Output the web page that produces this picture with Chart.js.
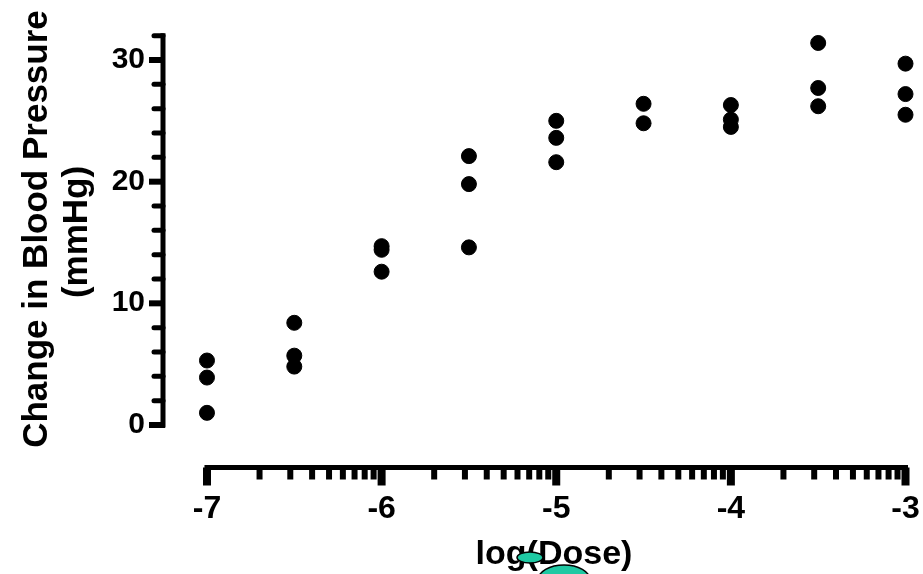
<!DOCTYPE html>
<html>
<head>
<meta charset="utf-8">
<script src="https://cdn.jsdelivr.net/npm/chart.js@4/dist/chart.umd.min.js"></script>
<style>
  html, body { margin: 0; padding: 0; background: #fff; }
</style>
</head>
<body>
<canvas id="doseChart" width="923" height="574"></canvas>
<script>
// log dose and the three replicate responses (mmHg)
const doses = [-7, -6.5, -6, -5.5, -5, -4.5, -4, -3.5, -3];
const rep1 = [5.3, 8.4, 14.7, 22.1, 25.0, 26.4, 26.3, 31.4, 29.7];
const rep2 = [3.9, 5.7, 14.4, 19.8, 23.6, 24.8, 25.1, 27.7, 27.2];
const rep3 = [1.0, 4.8, 12.6, 14.6, 21.6, null, 24.5, 26.2, 25.5];

const xTicks = [-7, -6, -5, -4, -3];
const yTicks = [0, 10, 20, 30];
const yMinor = [2, 4, 6, 8, 12, 14, 16, 18, 22, 24, 26, 28, 32];

const FONT = '"Liberation Sans", Arial, sans-serif';

const points = [];
[rep1, rep2, rep3].forEach(function (rep) {
  rep.forEach(function (v, i) {
    if (v !== null) points.push({ x: doses[i], y: v });
  });
});

// axes are drawn by hand so that x sits below y and the log minors fit
const prismAxes = {
  id: 'prismAxes',
  beforeDatasetsDraw: function (chart) {
    const ctx = chart.ctx;
    const xs = chart.scales.x, ys = chart.scales.y;
    const ax = 163;
    const ay = chart.chartArea.bottom + 0.5;
    ctx.save();
    ctx.strokeStyle = '#000';
    ctx.fillStyle = '#000';

    // y axis
    ctx.lineWidth = 5;
    ctx.lineCap = 'square';
    ctx.beginPath();
    ctx.moveTo(ax, ys.getPixelForValue(0));
    ctx.lineTo(ax, ys.getPixelForValue(32));
    ctx.stroke();
    ctx.lineCap = 'round';
    yMinor.forEach(function (v) {
      const py = ys.getPixelForValue(v);
      ctx.lineWidth = 5;
      ctx.beginPath();
      ctx.moveTo(ax, py);
      ctx.lineTo(ax - 9, py);
      ctx.stroke();
    });
    ctx.lineCap = 'butt';
    ctx.font = 'bold 30px ' + FONT;
    ctx.textAlign = 'right';
    ctx.textBaseline = 'alphabetic';
    yTicks.forEach(function (v) {
      const py = ys.getPixelForValue(v);
      ctx.lineWidth = 6;
      ctx.beginPath();
      ctx.moveTo(ax + 2, py);
      ctx.lineTo(ax - 14, py);
      ctx.stroke();
      ctx.fillText(String(v), 145, py + 8);
    });

    // x axis
    const x0 = xs.getPixelForValue(-7), x1 = xs.getPixelForValue(-3);
    ctx.lineWidth = 5;
    ctx.lineCap = 'square';
    ctx.beginPath();
    ctx.moveTo(x0, ay);
    ctx.lineTo(x1, ay);
    ctx.stroke();
    ctx.lineCap = 'butt';
    for (let d = -7; d < -3; d++) {
      for (let k = 2; k <= 9; k++) {
        const px = xs.getPixelForValue(d + Math.log10(k));
        ctx.lineWidth = 6;
        ctx.beginPath();
        ctx.moveTo(px, ay);
        ctx.lineTo(px, ay + 12);
        ctx.stroke();
      }
    }
    ctx.font = 'bold 32px ' + FONT;
    ctx.textAlign = 'center';
    xTicks.forEach(function (v) {
      const px = xs.getPixelForValue(v);
      ctx.lineWidth = 8;
      ctx.beginPath();
      ctx.moveTo(px, ay);
      ctx.lineTo(px, ay + 18);
      ctx.stroke();
      ctx.fillText(String(v), px, 518);
    });

    // titles
    ctx.font = 'bold 34px ' + FONT;
    ctx.fillText('log(Dose)', 554, 564);
    ctx.font = 'bold 35px ' + FONT;
    ctx.save();
    ctx.translate(47, 229);
    ctx.rotate(-Math.PI / 2);
    ctx.fillText('Change in Blood Pressure', 0, 0);
    ctx.restore();
    ctx.save();
    ctx.translate(87, 232);
    ctx.rotate(-Math.PI / 2);
    ctx.fillText('(mmHg)', 0, 0);
    ctx.restore();
    ctx.restore();
  },
  afterDraw: function (chart) {
    // the two green blobs over the x title
    const ctx = chart.ctx;
    ctx.save();
    ctx.fillStyle = '#1fc9a3';
    ctx.strokeStyle = '#000';
    ctx.lineWidth = 1.5;
    [[564, 580, 26, 15], [530, 557.5, 13, 5.5]].forEach(function (e) {
      ctx.beginPath();
      ctx.ellipse(e[0], e[1], e[2], e[3], 0, 0, Math.PI * 2);
      ctx.fill();
      ctx.stroke();
    });
    ctx.restore();
  }
};

new Chart(document.getElementById('doseChart'), {
  type: 'scatter',
  data: {
    datasets: [{
      label: 'Response',
      data: points,
      backgroundColor: '#000',
      borderColor: '#000',
      borderWidth: 1,
      pointRadius: 7.5,
      clip: false
    }]
  },
  options: {
    responsive: false,
    animation: false,
    layout: { padding: { left: 163, right: 8, top: 20, bottom: 107 } },
    plugins: { legend: { display: false }, tooltip: { enabled: false } },
    scales: {
      x: { type: 'linear', display: false, min: -7.2518, max: -2.9485 },
      y: { type: 'linear', display: false, min: -3.452, max: 33.288 }
    }
  },
  plugins: [prismAxes]
});
</script>
</body>
</html>
